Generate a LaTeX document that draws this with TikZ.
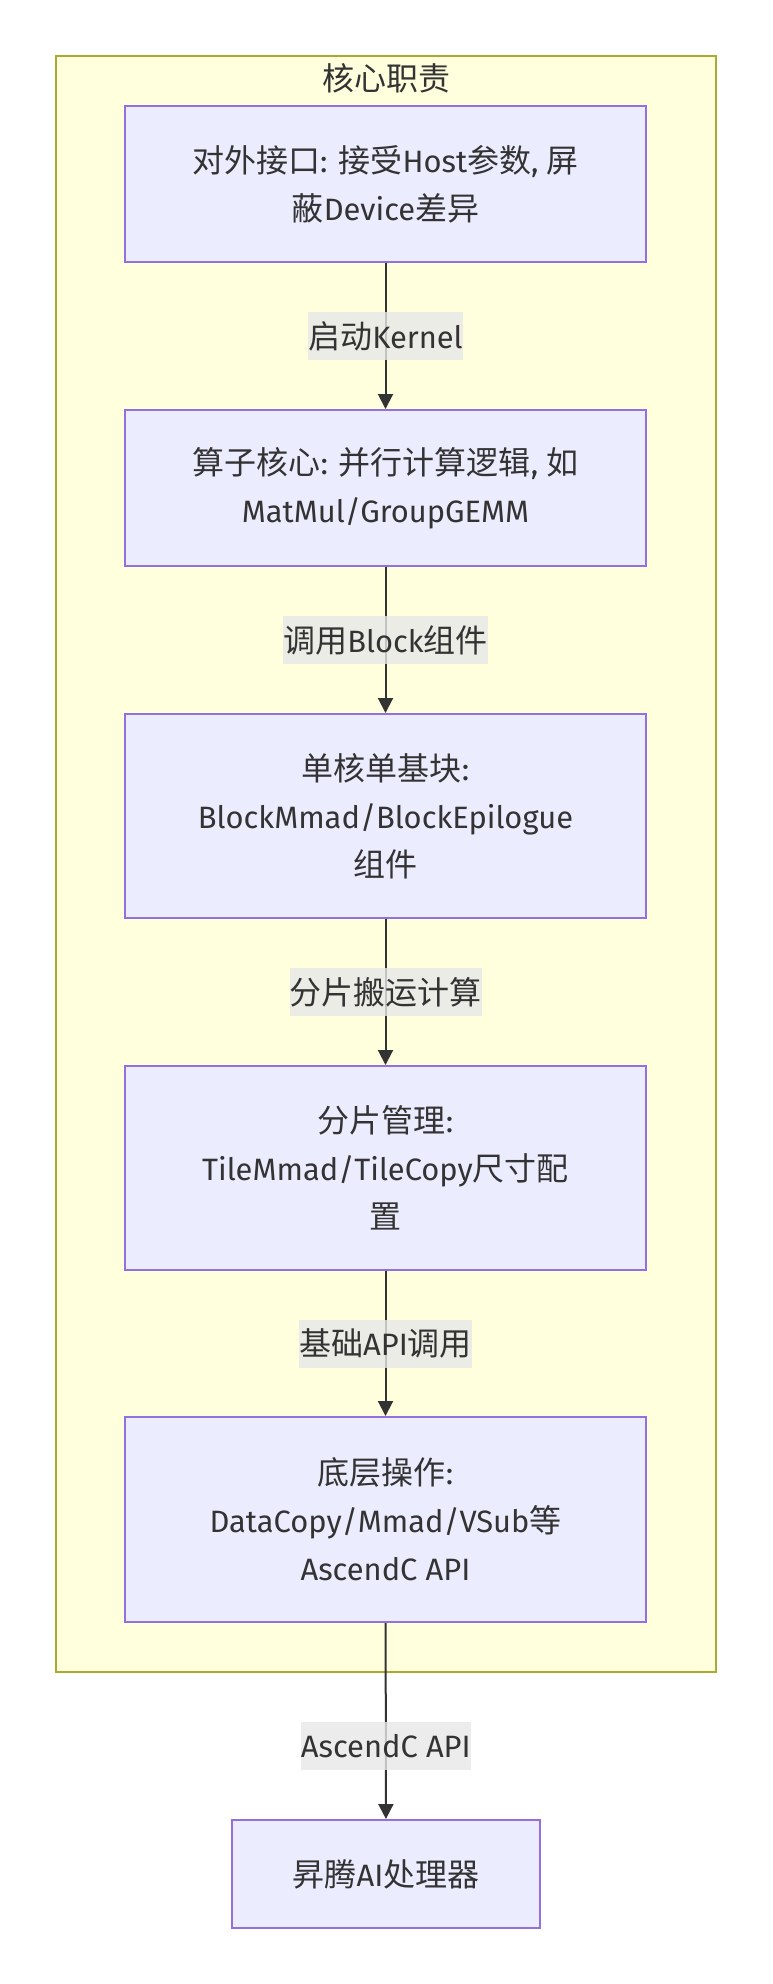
\documentclass[tikz,border=0pt]{standalone}
\usepackage{fontspec}
\setmainfont{Fira Sans}[Scale=0.965]
\newfontfamily\cjk{Noto Sans CJK SC}
\usetikzlibrary{arrows.meta}
\definecolor{nodefill}{HTML}{ECECFF}
\definecolor{nodestroke}{HTML}{9370DB}
\definecolor{clfill}{HTML}{FFFFDE}
\definecolor{clstroke}{HTML}{AAAA33}
\definecolor{txt}{HTML}{333333}
\definecolor{lblbg}{HTML}{E8E8E8}
\newcommand{\zh}[1]{{\cjk #1}}
\tikzset{
  box/.style={draw=nodestroke, fill=nodefill, line width=2pt, minimum width=521pt,
    inner sep=0pt, align=center, text=txt, font=\fontsize{32}{48}\selectfont},
  cluster/.style={draw=clstroke, fill=clfill, line width=2pt},
  edge/.style={draw=txt, line width=2pt, -{Triangle[length=15pt,width=15pt]}},
  lbl/.style={fill=lblbg, fill opacity=0.8, text opacity=1, text=txt, inner xsep=0pt,
    inner ysep=0pt, minimum height=48pt, font=\fontsize{32}{48}\selectfont},
  ttl/.style={text=txt, inner sep=0pt, font=\fontsize{32}{48}\selectfont}
}
\begin{document}
\begin{tikzpicture}[x=1pt,y=-1pt]
\useasboundingbox (0,0) rectangle (772,1984);
\fill[white] (0,0) rectangle (772,1984);
\draw[cluster] (56,56) rectangle (716,1672);
\node[ttl] (title) at (386,78) {\zh{核心职责}};
\node[box, minimum height=156pt] (b1) at (385.5,184)
  {\zh{对外接口}: \zh{接受}Host\zh{参数}, \zh{屏}\\\zh{蔽}Device\zh{差异}};
\node[box, minimum height=156pt] (b2) at (385.5,488)
  {\zh{算子核心}: \zh{并行计算逻辑}, \zh{如}\\MatMul/GroupGEMM};
\node[box, minimum height=204pt] (b3) at (385.5,816)
  {\zh{单核单基块}:\\BlockMmad/BlockEpilogue\\\zh{组件}};
\node[box, minimum height=204pt] (b4) at (385.5,1168)
  {\zh{分片管理}:\\TileMmad/TileCopy\zh{尺寸配}\\\zh{置}};
\node[box, minimum height=205pt] (b5) at (385.5,1519.5)
  {\zh{底层操作}:\\DataCopy/Mmad/VSub\zh{等}\\AscendC API};
\node[box, minimum width=308pt, minimum height=108pt] (b6) at (386,1874)
  {\zh{昇腾}AI\zh{处理器}};
\draw[edge] (b1) -- node[lbl] {\zh{启动}Kernel} (b2);
\draw[edge] (b2) -- node[lbl] {\zh{调用}Block\zh{组件}} (b3);
\draw[edge] (b3) -- node[lbl] {\zh{分片搬运计算}} (b4);
\draw[edge] (b4) -- node[lbl] {\zh{基础}API\zh{调用}} (b5);
\draw[edge] (b5) -- node[lbl, pos=0.626] {AscendC API} (b6);
\end{tikzpicture}
\end{document}
